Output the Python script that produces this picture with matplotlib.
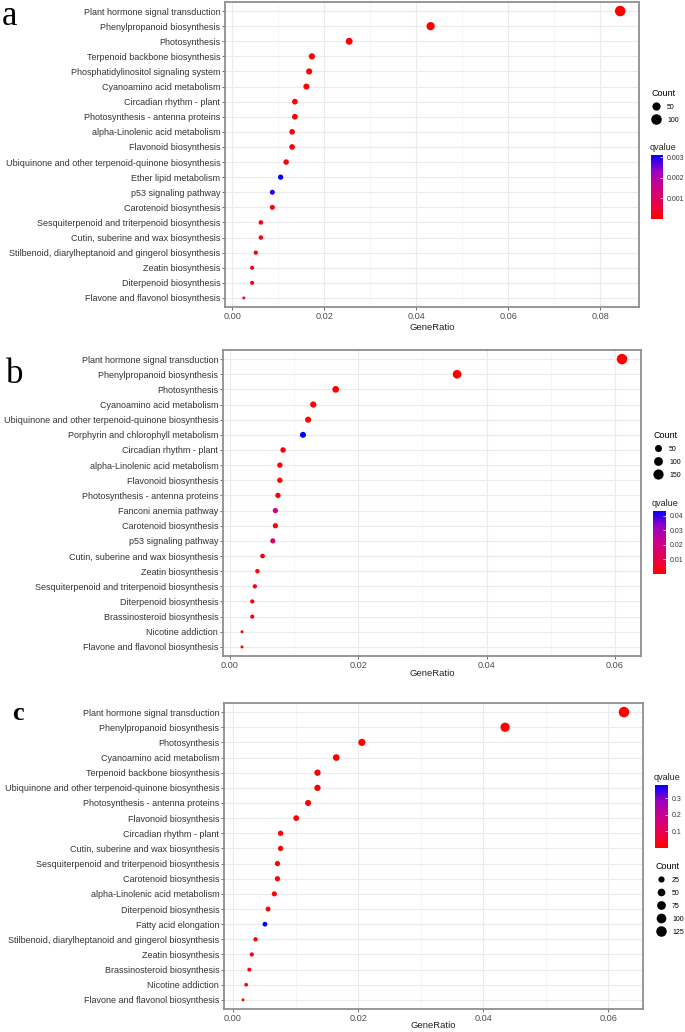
import numpy as np
import matplotlib
matplotlib.use("Agg")
import matplotlib.pyplot as plt
from matplotlib.colors import LinearSegmentedColormap, Normalize
from matplotlib.cm import ScalarMappable
from matplotlib.lines import Line2D
from matplotlib.ticker import MultipleLocator, FormatStrFormatter

plt.rcParams['font.family'] = ['Liberation Sans', 'DejaVu Sans']

W, H = 685, 1032

# ---- panel a ----
terms_a = ["Plant hormone signal transduction", "Phenylpropanoid biosynthesis", "Photosynthesis",
           "Terpenoid backbone biosynthesis", "Phosphatidylinositol signaling system",
           "Cyanoamino acid metabolism", "Circadian rhythm - plant", "Photosynthesis - antenna proteins",
           "alpha-Linolenic acid metabolism", "Flavonoid biosynthesis",
           "Ubiquinone and other terpenoid-quinone biosynthesis", "Ether lipid metabolism",
           "p53 signaling pathway", "Carotenoid biosynthesis",
           "Sesquiterpenoid and triterpenoid biosynthesis", "Cutin, suberine and wax biosynthesis",
           "Stilbenoid, diarylheptanoid and gingerol biosynthesis", "Zeatin biosynthesis",
           "Diterpenoid biosynthesis", "Flavone and flavonol biosynthesis"]
ratio_a = [0.0843, 0.0431, 0.0254, 0.0173, 0.0167, 0.0161, 0.0136, 0.0136, 0.0130, 0.0130,
           0.0117, 0.0105, 0.0087, 0.0087, 0.0062, 0.0062, 0.0051, 0.0043, 0.0043, 0.0025]
count_a = [100, 51, 30, 21, 20, 19, 16, 16, 15, 15, 14, 12, 10, 10, 7, 7, 6, 5, 5, 3]
qvalue_a = [0.00001, 0.00002, 0.00003, 0.00005, 0.00008, 0.00004, 0.0001, 0.00006, 0.0001, 0.00012,
            0.00015, 0.0031, 0.0029, 0.0002, 0.00018, 0.0002, 0.00025, 0.0002, 0.0003, 0.0006]

# ---- panel b ----
terms_b = ["Plant hormone signal transduction", "Phenylpropanoid biosynthesis", "Photosynthesis",
           "Cyanoamino acid metabolism", "Ubiquinone and other terpenoid-quinone biosynthesis",
           "Porphyrin and chlorophyll metabolism", "Circadian rhythm - plant",
           "alpha-Linolenic acid metabolism", "Flavonoid biosynthesis",
           "Photosynthesis - antenna proteins", "Fanconi anemia pathway", "Carotenoid biosynthesis",
           "p53 signaling pathway", "Cutin, suberine and wax biosynthesis", "Zeatin biosynthesis",
           "Sesquiterpenoid and triterpenoid biosynthesis", "Diterpenoid biosynthesis",
           "Brassinosteroid biosynthesis", "Nicotine addiction", "Flavone and flavonol biosynthesis"]
ratio_b = [0.0611, 0.0354, 0.0165, 0.0130, 0.0122, 0.0114, 0.0083, 0.0078, 0.0078, 0.0075,
           0.0071, 0.0071, 0.0067, 0.0051, 0.0043, 0.0039, 0.0035, 0.0035, 0.0019, 0.0019]
count_b = [161, 93, 43, 34, 32, 30, 22, 21, 21, 20, 19, 19, 18, 13, 11, 10, 9, 9, 5, 5]
qvalue_b = [0.00001, 0.00002, 0.0001, 0.0002, 0.0004, 0.0435, 0.002, 0.0008, 0.001, 0.001,
            0.020, 0.001, 0.015, 0.001, 0.001, 0.0012, 0.001, 0.001, 0.0015, 0.001]

# ---- panel c ----
terms_c = ["Plant hormone signal transduction", "Phenylpropanoid biosynthesis", "Photosynthesis",
           "Cyanoamino acid metabolism", "Terpenoid backbone biosynthesis",
           "Ubiquinone and other terpenoid-quinone biosynthesis", "Photosynthesis - antenna proteins",
           "Flavonoid biosynthesis", "Circadian rhythm - plant", "Cutin, suberine and wax biosynthesis",
           "Sesquiterpenoid and triterpenoid biosynthesis", "Carotenoid biosynthesis",
           "alpha-Linolenic acid metabolism", "Diterpenoid biosynthesis", "Fatty acid elongation",
           "Stilbenoid, diarylheptanoid and gingerol biosynthesis", "Zeatin biosynthesis",
           "Brassinosteroid biosynthesis", "Nicotine addiction", "Flavone and flavonol biosynthesis"]
ratio_c = [0.0625, 0.0435, 0.0206, 0.0165, 0.0135, 0.0135, 0.0120, 0.0101, 0.0076, 0.0076,
           0.0071, 0.0071, 0.0066, 0.0056, 0.0051, 0.0036, 0.0030, 0.0026, 0.0021, 0.0016]
count_c = [125, 87, 41, 33, 27, 27, 24, 20, 15, 15, 14, 14, 13, 11, 10, 7, 6, 5, 4, 3]
qvalue_c = [0.00001, 0.00002, 0.0001, 0.0002, 0.001, 0.002, 0.002, 0.003, 0.004, 0.005,
            0.006, 0.005, 0.008, 0.01, 0.38, 0.012, 0.015, 0.015, 0.02, 0.02]

# ggplot low="red" high="blue" gradient (Lab interpolated)
cmap = LinearSegmentedColormap.from_list(
    "rb", [(0, "#FF0000"), (0.25, "#E80050"), (0.5, "#CB0089"), (0.75, "#9A00C3"), (1, "#0000FF")])

DMIN, DMAX = 3.0, 10.5  # marker diameter px


def diam(c, cmin, cmax):
    c = np.asarray(c, dtype=float)
    return DMIN + (DMAX - DMIN) * np.sqrt((c - cmin) / (cmax - cmin))


def frac(l, t, r, b):
    return [l / W, 1 - b / H, (r - l) / W, (b - t) / H]


fig = plt.figure(figsize=(W / 100, H / 100), dpi=100)
fig.patch.set_facecolor("white")


def dotplot(rect, terms, ratio, count, qv, size_breaks, qticks, qfmt,
            letter, letter_pos, letter_kw, count_pos, q_pos, cbar_rect, label_y):
    ax = fig.add_axes(frac(*rect))
    n = len(terms)
    y = np.arange(n)
    cmin, cmax = min(count), max(count)
    d = diam(count, cmin, cmax) * 0.72
    norm = Normalize(vmin=min(qv), vmax=max(qv))
    ax.scatter(ratio, y, s=d ** 2, c=qv, cmap=cmap, norm=norm, edgecolors="none", zorder=3)
    ax.set_yticks(y)
    ax.set_yticklabels(terms)
    ax.set_ylim(n - 0.4, -0.6)
    lo, hi = min(ratio), max(ratio)
    pad = 0.05 * (hi - lo)
    ax.set_xlim(lo - pad, hi + pad)
    ax.xaxis.set_major_locator(MultipleLocator(0.02))
    ax.xaxis.set_minor_locator(MultipleLocator(0.01))
    ax.xaxis.set_major_formatter(FormatStrFormatter("%.2f"))
    ax.grid(True, which="major", color="#EBEBEB", lw=0.8, zorder=0)
    ax.grid(True, which="minor", axis="x", color="#F2F2F2", lw=0.5, zorder=0)
    ax.set_axisbelow(True)
    for sp in ax.spines.values():
        sp.set_color("#8F8F8F")
        sp.set_linewidth(1.3)
    ax.tick_params(axis="both", which="major", length=2, width=0.6, color="#555555",
                   labelsize=6.5, labelcolor="#333333", pad=1.5)
    ax.tick_params(axis="x", which="major", labelsize=6.6, labelcolor="#4D4D4D")
    ax.tick_params(which="minor", length=0)
    fig.text((rect[0] + rect[2]) / 2 / W, 1 - label_y / H, "GeneRatio",
             ha="center", va="center", fontsize=6.8, color="#222222")
    fig.text(letter_pos[0] / W, 1 - letter_pos[1] / H, letter,
             family="Liberation Serif", ha="left", va="baseline", **letter_kw)

    # size legend
    handles = [Line2D([], [], marker="o", ls="none", color="black", markeredgewidth=0,
                      markersize=float(diam(b, cmin, cmax)) * 0.72) for b in size_breaks]
    leg = fig.legend(handles, [str(b) for b in size_breaks], title="Count",
                     loc="upper left", bbox_to_anchor=(count_pos[0] / W, 1 - count_pos[1] / H),
                     frameon=False, fontsize=5, title_fontsize=6.5, labelspacing=0.85,
                     handletextpad=0.9, handlelength=1.4, borderpad=0, borderaxespad=0)
    leg._legend_box.align = "left"

    # qvalue colorbar
    fig.text(q_pos[0] / W, 1 - q_pos[1] / H, "qvalue", ha="left", va="center",
             fontsize=6.5, color="#222222")
    cax = fig.add_axes(frac(*cbar_rect))
    cb = fig.colorbar(ScalarMappable(norm=norm, cmap=cmap), cax=cax)
    cb.outline.set_visible(False)
    cb.set_ticks(qticks)
    cb.set_ticklabels([qfmt % t for t in qticks])
    cax.tick_params(length=2, width=0.5, color="white", direction="in", labelsize=5,
                    labelcolor="#333333", pad=3)
    return ax


dotplot((225, 2, 639, 307), terms_a, ratio_a, count_a, qvalue_a, [50, 100],
        [0.001, 0.002, 0.003], "%.3f", "a", (2, 25), dict(fontsize=25),
        (651, 89), (650, 148), (650.5, 155, 663, 219), 327)

dotplot((223, 350, 641, 656), terms_b, ratio_b, count_b, qvalue_b, [50, 100, 150],
        [0.01, 0.02, 0.03, 0.04], "%.2f", "b", (6, 383), dict(fontsize=25),
        (653, 431), (652, 503), (653, 510.5, 665.5, 574), 674)

dotplot((224, 703, 643, 1009), terms_c, ratio_c, count_c, qvalue_c, [25, 50, 75, 100, 125],
        [0.1, 0.2, 0.3], "%.1f", "c", (12, 720), dict(fontsize=19, fontweight="bold"),
        (656, 862), (654, 777), (655, 785, 667.5, 847.5), 1026)

fig.savefig("out.png", dpi=100)
